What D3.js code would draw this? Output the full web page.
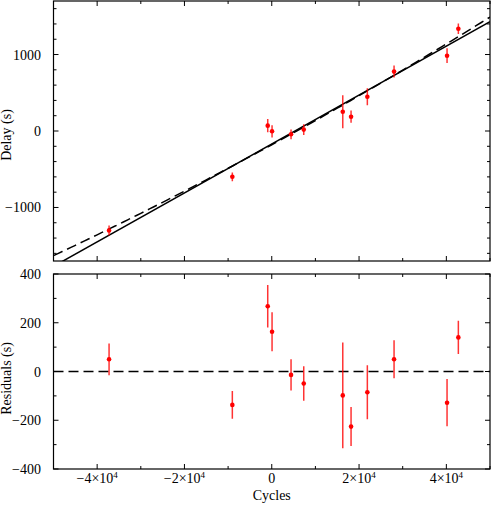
<!DOCTYPE html>
<html>
<head>
<meta charset="utf-8">
<script src="https://cdn.jsdelivr.net/npm/d3@7"></script>
<style>
  body { margin: 0; background: #fff; }
  svg { display: block; font-family: "Liberation Serif", "Times New Roman", serif; }
</style>
</head>
<body>
<div class="chart"></div>
<script>
// data
const cycles    = [-37270, -9030, -920, 70, 4420, 7330, 16270, 18170, 21900, 28020, 40160, 42750];
const delays    = [-1302, -599, 70, -4, -43, 18, 252, 187, 448, 777, 985, 1337];
const errors    = [65, 57, 87, 80, 64, 71, 217, 80, 111, 78, 97, 68];
const residuals = [50, -137, 268, 163, -14, -49, -98, -226, -85, 50, -128, 140];

// fits: linear [a0, a1], quadratic [a0, a1, a2]
const linFit  = [-170, 0.032];
const quadFit = [-180, 0.0312, 4.4e-8];

const xTicks      = [-40000, -20000, 0, 20000, 40000];
const delayTicks  = [-1000, 0, 1000];
const residTicks  = [-400, -200, 0, 200, 400];

const red = "#ff0000";

const width = 491, height = 507;
const left = 53.5, right = 490;
const top1 = { y0: 1, y1: 261 };
const top2 = { y0: 274, y1: 469 };

const svg = d3.select(".chart").append("svg")
  .attr("width", width)
  .attr("height", height);

const x = d3.scaleLinear().domain([-50000, 50000]).range([left, right]);
const yD = d3.scaleLinear().domain([-1700, 1700]).range([top1.y1, top1.y0]);
const yR = d3.scaleLinear().domain([-400, 400]).range([top2.y1, top2.y0]);

const pts = cycles.map((c, i) => ({ c: c, d: delays[i], e: errors[i], r: residuals[i] }));

function fmtX(g, v) {
  const t = g.append("text")
    .attr("x", x(v)).attr("y", 483)
    .attr("text-anchor", "middle")
    .style("font-size", "14px");
  if (v === 0) { t.text("0"); return; }
  t.append("tspan").text((v < 0 ? "\u2212" : "") + Math.abs(v / 10000) + "\u00d710");
  t.append("tspan").attr("dy", -5).style("font-size", "9px").text("4");
}

function panel(y, yMajor, yMinorStep, name) {
  const [y0, y1] = y.range().slice().reverse();
  const g = svg.append("g");

  g.append("clipPath").attr("id", "clip-" + name)
    .append("rect")
    .attr("x", left).attr("y", y0)
    .attr("width", right - left).attr("height", y1 - y0);

  // ticks, pointing inward, on all four sides
  const ticks = g.append("g").attr("stroke", "#000").attr("stroke-width", 1);
  const xMinor = d3.range(-50000, 50001, 10000);
  xMinor.forEach(v => {
    const len = xTicks.includes(v) ? 5 : 3;
    ticks.append("line").attr("x1", x(v)).attr("x2", x(v)).attr("y1", y1).attr("y2", y1 - len);
    ticks.append("line").attr("x1", x(v)).attr("x2", x(v)).attr("y1", y0).attr("y2", y0 + len);
  });
  const [dmin, dmax] = y.domain();
  d3.range(Math.ceil(dmin / yMinorStep) * yMinorStep, dmax + 1, yMinorStep).forEach(v => {
    const len = yMajor.includes(v) ? 5 : 3;
    ticks.append("line").attr("x1", left).attr("x2", left + len).attr("y1", y(v)).attr("y2", y(v));
    ticks.append("line").attr("x1", right).attr("x2", right - len).attr("y1", y(v)).attr("y2", y(v));
  });

  g.selectAll(".ylab")
    .data(yMajor)
    .enter()
    .append("text")
    .attr("x", 41)
    .attr("y", d => y(d) + 5)
    .attr("text-anchor", "end")
    .style("font-size", "14px")
    .text(d => d < 0 ? "\u2212" + Math.abs(d) : d);

  // frame
  g.append("rect")
    .attr("x", left).attr("y", y0)
    .attr("width", right - left).attr("height", y1 - y0)
    .attr("fill", "none").attr("stroke", "#000").attr("stroke-width", 1.2);

  return g;
}

// ---- top panel: delays
const g1 = panel(yD, delayTicks, 200, "top");
const plot1 = g1.append("g").attr("clip-path", "url(#clip-top)");

const quadLine = d3.line()
  .x(c => x(c))
  .y(c => yD(quadFit[0] + quadFit[1] * c + quadFit[2] * c * c));

plot1.append("path")
  .attr("d", quadLine(d3.range(-50000, 50001, 1000)))
  .attr("fill", "none").attr("stroke", "#000")
  .attr("stroke-width", 1.5).attr("stroke-dasharray", "10,5");

plot1.append("line")
  .attr("x1", x(-50000)).attr("y1", yD(linFit[0] + linFit[1] * -50000))
  .attr("x2", x(50000)).attr("y2", yD(linFit[0] + linFit[1] * 50000))
  .attr("stroke", "#000").attr("stroke-width", 1.5);

plot1.selectAll(".err")
  .data(pts).enter().append("line")
  .attr("x1", d => x(d.c)).attr("x2", d => x(d.c))
  .attr("y1", d => yD(d.d - d.e)).attr("y2", d => yD(d.d + d.e))
  .attr("stroke", red).attr("stroke-width", 1.5).attr("stroke-opacity", 0.8);

plot1.selectAll(".dot")
  .data(pts).enter().append("circle")
  .attr("cx", d => x(d.c)).attr("cy", d => yD(d.d))
  .attr("r", 2.3).attr("fill", red);

svg.append("text")
  .attr("transform", `translate(11, ${yD(0) + 4}) rotate(-90)`)
  .attr("text-anchor", "middle")
  .style("font-size", "14px")
  .text("Delay (s)");

// ---- bottom panel: residuals
const g2 = panel(yR, residTicks, 100, "bot");
const plot2 = g2.append("g").attr("clip-path", "url(#clip-bot)");

plot2.append("line")
  .attr("x1", left).attr("x2", right)
  .attr("y1", yR(0)).attr("y2", yR(0))
  .attr("stroke", "#000").attr("stroke-width", 1.3).attr("stroke-dasharray", "10,5");

plot2.selectAll(".err")
  .data(pts).enter().append("line")
  .attr("x1", d => x(d.c)).attr("x2", d => x(d.c))
  .attr("y1", d => yR(d.r - d.e)).attr("y2", d => yR(d.r + d.e))
  .attr("stroke", red).attr("stroke-width", 1.5).attr("stroke-opacity", 0.8);

plot2.selectAll(".dot")
  .data(pts).enter().append("circle")
  .attr("cx", d => x(d.c)).attr("cy", d => yR(d.r))
  .attr("r", 2.3).attr("fill", red);

svg.append("text")
  .attr("transform", `translate(11, ${yR(0) + 7}) rotate(-90)`)
  .attr("text-anchor", "middle")
  .style("font-size", "14px")
  .text("Residuals (s)");

// x axis labels
const xl = svg.append("g");
xTicks.forEach(v => fmtX(xl, v));

svg.append("text")
  .attr("x", x(0)).attr("y", 500)
  .attr("text-anchor", "middle")
  .style("font-size", "14px")
  .text("Cycles");
</script>
</body>
</html>
